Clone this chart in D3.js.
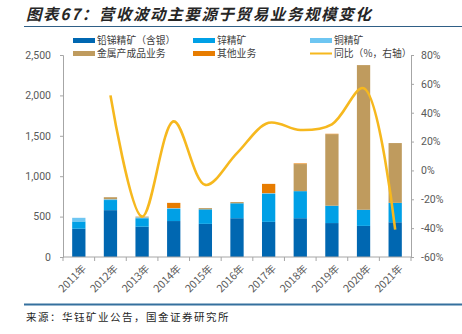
<!DOCTYPE html>
<html>
<head>
<meta charset="utf-8">
<script src="https://cdn.jsdelivr.net/npm/d3@7"></script>
<style>
  body { margin: 0; background: #fff; }
  svg { display: block; font-family: "Noto Sans CJK SC", "Noto Sans", sans-serif; }
</style>
</head>
<body>
<script>
// yearly revenue by segment (百万元) and total YoY change (%)
const years = ["2011年", "2012年", "2013年", "2014年", "2015年", "2016年", "2017年", "2018年", "2019年", "2020年", "2021年"];
const leadOre   = [350, 580, 375, 445, 410, 480, 435, 480, 420, 385, 430];
const zincOre   = [ 90, 125, 105, 150, 180, 185, 345, 335, 215, 200, 240];
const copperOre = [ 45,  10,  10,  10,   0,   0,  10,   0,   0,   0,   0];
const metals    = [  0,  25,  10,   0,  15,  15,   0, 335, 885, 1790, 740];
const others    = [  0,   0,   0,  65,   0,   0, 115,   8,   5,   0,   0];
const yoy       = [null, 52, -32, 34, -10, 12, 33, 28, 32, 57, -41];

const leftTicks = [0, 500, 1000, 1500, 2000, 2500];
const rightTicks = [-60, -40, -20, 0, 20, 40, 60, 80];

const keys = ["铅锑精矿（含银）", "锌精矿", "铜精矿", "金属产成品业务", "其他业务"];
const seriesData = [leadOre, zincOre, copperOre, metals, others];
const colors = ["#0067B1", "#00A0E6", "#6EC6F2", "#BF9B5E", "#E77C00"];
const lineColor = "#F6B81E";

const width = 462;
const height = 334;
const marginLeft = 63;
const marginRight = 51;
const marginTop = 55;
const plotBottom = 257;

const rows = years.map((y, i) => {
  const r = { year: y };
  keys.forEach((k, j) => r[k] = seriesData[j][i]);
  return r;
});

const series = d3.stack().keys(keys)(rows);

const x = d3.scaleBand()
    .domain(years)
    .range([marginLeft, width - marginRight])
    .paddingInner(0.58)
    .paddingOuter(0.29);

const band = d3.scaleBand()
    .domain(years)
    .range([marginLeft, width - marginRight]);

const y = d3.scaleLinear()
    .domain([0, 2500])
    .range([plotBottom, marginTop]);

const y2 = d3.scaleLinear()
    .domain([-60, 80])
    .range([plotBottom, marginTop]);

const svg = d3.select("body")
  .append("svg")
    .attr("width", width)
    .attr("height", height)
    .attr("viewBox", [0, 0, width, height]);

// title and rules
svg.append("text")
    .attr("x", 26)
    .attr("y", 20)
    .attr("font-size", 15.5)
    .attr("font-weight", "bold")
    .attr("font-style", "italic")
    .attr("letter-spacing", 1.6)
    .attr("fill", "#262626")
    .text("图表67：营收波动主要源于贸易业务规模变化");

svg.append("line")
    .attr("x1", 24).attr("x2", width)
    .attr("y1", 26.5).attr("y2", 26.5)
    .attr("stroke", "#2F5F86")
    .attr("stroke-width", 1);

svg.append("line")
    .attr("x1", 24).attr("x2", width)
    .attr("y1", 304.5).attr("y2", 304.5)
    .attr("stroke", "#35709E")
    .attr("stroke-width", 2);

svg.append("text")
    .attr("x", 26)
    .attr("y", 321)
    .attr("font-size", 10.5)
    .attr("letter-spacing", 1.5)
    .attr("fill", "#262626")
    .text("来源：华钰矿业公告，国金证券研究所");

// stacked bars
svg.append("g")
  .selectAll("g")
  .data(series)
  .join("g")
    .attr("fill", (d, i) => colors[i])
  .selectAll("rect")
  .data(D => D)
  .join("rect")
    .attr("x", d => x(d.data.year))
    .attr("y", d => y(d[1]))
    .attr("height", d => y(d[0]) - y(d[1]))
    .attr("width", x.bandwidth());

// axes
const axisColor = "#A6A6A6";
const labelColor = "#595959";

svg.append("g")
    .attr("transform", `translate(${marginLeft},0)`)
    .call(d3.axisLeft(y).tickValues(leftTicks).tickSize(3).tickPadding(9).tickFormat(d3.format(",")))
    .call(g => g.selectAll("path, line").attr("stroke", axisColor))
    .call(g => g.selectAll("text").attr("fill", labelColor).attr("font-size", 10.5).attr("font-family", "Roboto, 'Noto Sans', sans-serif"));

svg.append("g")
    .attr("transform", `translate(${width - marginRight},0)`)
    .call(d3.axisRight(y2).tickValues(rightTicks).tickSize(3).tickPadding(7).tickFormat(d => d + "%"))
    .call(g => g.selectAll("path, line").attr("stroke", axisColor))
    .call(g => g.selectAll("text").attr("fill", labelColor).attr("font-size", 10.5).attr("font-family", "Roboto, 'Noto Sans', sans-serif"));

const xAxis = svg.append("g")
    .attr("transform", `translate(0,${plotBottom})`);

xAxis.append("line")
    .attr("x1", marginLeft).attr("x2", width - marginRight)
    .attr("stroke", axisColor);

xAxis.selectAll(".tick")
  .data(d3.range(years.length + 1))
  .join("line")
    .attr("x1", i => marginLeft + i * band.bandwidth())
    .attr("x2", i => marginLeft + i * band.bandwidth())
    .attr("y2", 4)
    .attr("stroke", axisColor);

xAxis.selectAll("text")
  .data(years)
  .join("text")
    .attr("transform", d => `translate(${band(d) + band.bandwidth() / 2 + 3},7) rotate(-45)`)
    .attr("text-anchor", "end")
    .attr("dy", "0.7em")
    .attr("font-size", 10.5)
    .attr("fill", labelColor)
    .text(d => d);

// YoY line on the right axis
const line = d3.line()
    .defined(d => d[1] != null)
    .x(d => band(d[0]) + band.bandwidth() / 2)
    .y(d => y2(d[1]))
    .curve(d3.curveCatmullRom.alpha(0.5));

svg.append("path")
    .datum(years.map((yr, i) => [yr, yoy[i]]).filter(d => d[1] != null))
    .attr("fill", "none")
    .attr("stroke", lineColor)
    .attr("stroke-width", 2.6)
    .attr("d", line);

// legend
const legendItems = [
  { label: keys[0], color: colors[0], col: 0, row: 0 },
  { label: keys[1], color: colors[1], col: 1, row: 0 },
  { label: keys[2], color: colors[2], col: 2, row: 0 },
  { label: keys[3], color: colors[3], col: 0, row: 1 },
  { label: keys[4], color: colors[4], col: 1, row: 1 },
  { label: "同比（%，右轴）", color: lineColor, col: 2, row: 1, line: true }
];
const colX = [73, 193, 310];

const legend = svg.append("g")
  .selectAll("g")
  .data(legendItems)
  .join("g")
    .attr("transform", d => `translate(${colX[d.col]},${40.5 + d.row * 13})`);

legend.append("rect")
    .attr("y", d => d.line ? -1 : -2.5)
    .attr("width", 22)
    .attr("height", d => d.line ? 2 : 5)
    .attr("fill", d => d.color);

legend.append("text")
    .attr("x", 24)
    .attr("dy", "0.35em")
    .attr("font-size", 9.8)
    .attr("fill", "#404040")
    .text(d => d.label);
</script>
</body>
</html>
